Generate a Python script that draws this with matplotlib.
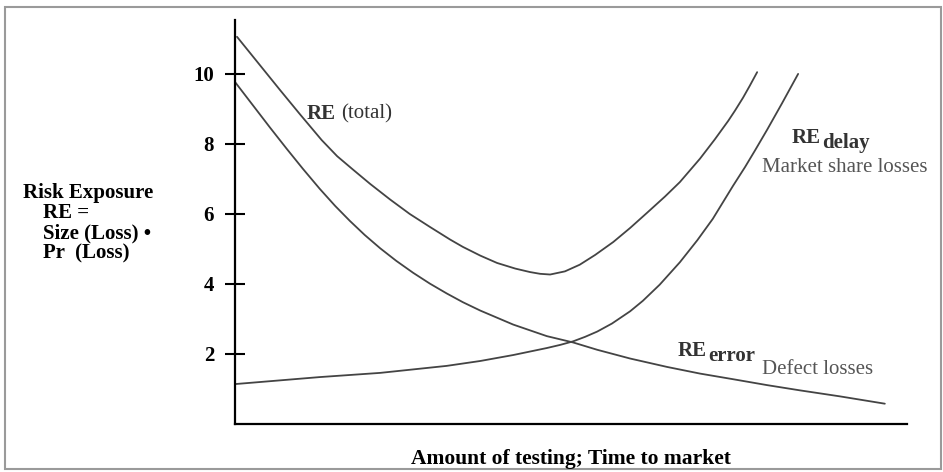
import matplotlib
matplotlib.use("Agg")
import matplotlib.pyplot as plt
from matplotlib.patches import Rectangle

# curves (x: amount of testing, arbitrary 0-10; y: risk exposure)
total_x = [0.03, 0.67, 0.97, 1.29, 1.52, 1.76, 2.01, 2.31, 2.60, 2.90, 3.20, 3.39, 3.65, 3.90,
           4.17, 4.39, 4.54, 4.69, 4.91, 5.13, 5.36, 5.63, 5.88, 6.13, 6.40, 6.62, 6.92,
           7.14, 7.34, 7.44, 7.56, 7.66, 7.77]
total_y = [11.06, 9.54, 8.84, 8.11, 7.65, 7.26, 6.86, 6.41, 6.00, 5.63, 5.27, 5.06, 4.81, 4.60,
           4.44, 4.34, 4.29, 4.27, 4.36, 4.55, 4.83, 5.20, 5.60, 6.03, 6.50, 6.91, 7.58,
           8.13, 8.66, 8.95, 9.32, 9.66, 10.05]

error_x = [0.0, 0.52, 0.77, 1.01, 1.26, 1.49, 1.71, 1.93, 2.16, 2.40, 2.65, 2.90, 3.15, 3.39,
           3.65, 4.14, 4.64, 5.03, 5.39, 5.88, 6.43, 6.92, 7.41, 7.92, 8.41, 9.0, 9.67]
error_y = [9.77, 8.47, 7.86, 7.29, 6.72, 6.23, 5.80, 5.40, 5.02, 4.66, 4.32, 4.01, 3.73, 3.48,
           3.24, 2.84, 2.51, 2.33, 2.12, 1.87, 1.63, 1.44, 1.28, 1.11, 0.96, 0.79, 0.58]

delay_x = [0.0, 1.26, 2.16, 3.15, 3.65, 4.14, 4.64, 4.84, 5.03, 5.21, 5.39, 5.61, 5.88, 6.07,
           6.32, 6.62, 6.88, 7.11, 7.41, 7.59, 7.74, 7.92, 8.14, 8.38]
delay_y = [1.14, 1.34, 1.46, 1.66, 1.80, 1.97, 2.17, 2.26, 2.36, 2.49, 2.64, 2.87, 3.22, 3.52,
           3.98, 4.62, 5.25, 5.86, 6.80, 7.34, 7.82, 8.41, 9.16, 10.0]

yticks = [2, 4, 6, 8, 10]

W, H = 943, 472
SERIF = "Liberation Serif"
LINE = "#444444"
FS = 15

fig = plt.figure(figsize=(W / 100, H / 100), dpi=100)
ax = fig.add_axes([235 / W, 1 - 424 / H, (907 - 235) / W, (424 - 20) / H])

for xs, ys in [(total_x, total_y), (error_x, error_y), (delay_x, delay_y)]:
    ax.plot(xs, ys, color=LINE, lw=1.3, solid_capstyle="round", solid_joinstyle="round")

ax.set_xlim(0, 10)
ax.set_ylim(0, 11.54)
ax.set_xticks([])
ax.set_yticks(yticks)
ax.set_yticklabels([str(t) for t in yticks], fontfamily=SERIF, fontweight="bold", fontsize=FS)
ax.tick_params(axis="y", direction="inout", length=14, width=1.5, pad=8)
for s in ["top", "right"]:
    ax.spines[s].set_visible(False)
for s in ["left", "bottom"]:
    ax.spines[s].set_linewidth(1.6)


def ftext(x, y, s, **kw):
    kw.setdefault("fontfamily", SERIF)
    kw.setdefault("fontsize", FS)
    kw.setdefault("va", "center")
    return fig.text(x / W, 1 - y / H, s, **kw)


renderer = fig.canvas.get_renderer()


def sub_label(x, y, main, sub, dy=5):
    t = ftext(x, y, main, fontweight="bold", color="#333333")
    x1 = t.get_window_extent(renderer).x1
    ftext(x1 + 1, y + dy, sub, fontweight="bold", color="#333333", fontsize=FS)


# y-axis caption
ftext(23, 193, "Risk Exposure", fontweight="bold")
ftext(43, 213, "RE =", fontweight="bold")
ftext(43, 233, "Size (Loss) \u2022", fontweight="bold")
ftext(43, 253, "Pr  (Loss)", fontweight="bold")

# curve labels
t = ftext(307, 114, "RE", fontweight="bold", color="#333333")
ftext(t.get_window_extent(renderer).x1 + 5, 114, "(total)", color="#333333")

sub_label(792, 138, "RE", "delay")
ftext(762, 167, "Market share losses", color="#555555")

sub_label(678, 351, "RE", "error")
ftext(762, 370, "Defect losses", color="#555555")

ftext(571, 459, "Amount of testing; Time to market", fontweight="bold", ha="center",
      fontsize=15.5)

# outer frame
fig.patches.append(Rectangle((5 / W, 1 - 469 / H), (941 - 5) / W, (469 - 7) / H,
                             transform=fig.transFigure, fill=False,
                             edgecolor="#9a9a9a", lw=1.5))

fig.savefig("out.png", dpi=100)
